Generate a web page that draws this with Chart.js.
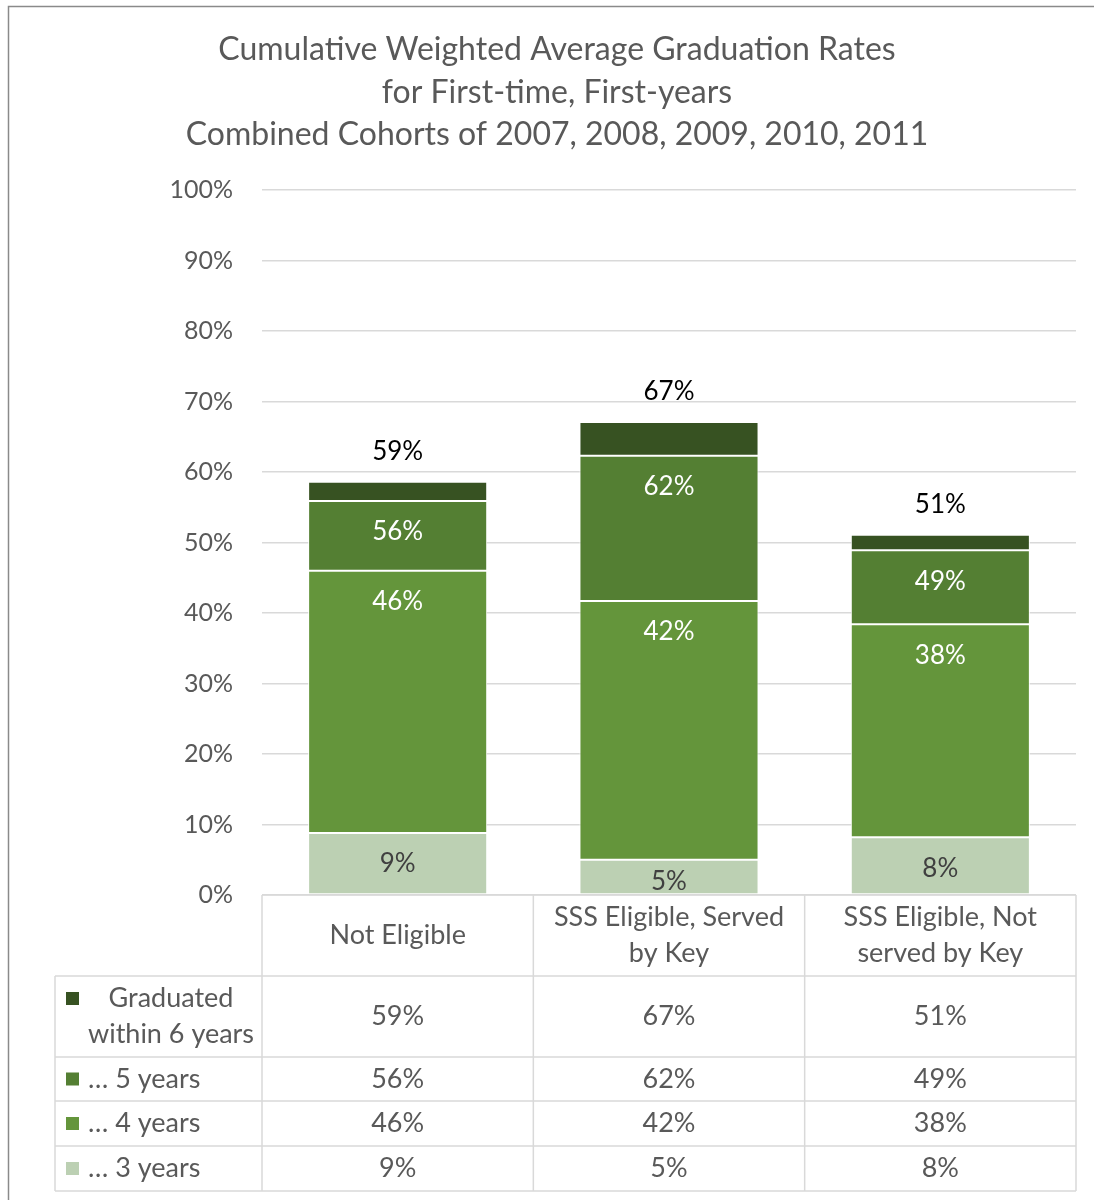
<!DOCTYPE html>
<html>
<head>
<meta charset="utf-8">
<script src="https://cdn.jsdelivr.net/npm/chart.js@4.4.1/dist/chart.umd.min.js"></script>
<style>
  html, body { margin: 0; padding: 0; background: #ffffff; }
  #wrap { width: 1094px; height: 1200px; }
</style>
</head>
<body>
<div id="wrap"><canvas id="c" width="1094" height="1200"></canvas></div>
<script>
// ---------- DATA ----------
const titleLines = [
  'Cumulative Weighted Average Graduation Rates',
  'for First-time, First-years',
  'Combined Cohorts of 2007, 2008, 2009, 2010, 2011'
];
const categories = [
  ['Not Eligible'],
  ['SSS Eligible, Served', 'by Key'],
  ['SSS Eligible, Not', 'served by Key']
];
// cumulative graduation rates (%)
const within3 = [8.8, 5.0, 8.2];
const within4 = [46.0, 41.7, 38.4];
const within5 = [55.9, 62.3, 48.9];
const within6 = [58.6, 67.1, 51.1];
const seriesNames = ['… 3 years', '… 4 years', '… 5 years', 'Graduated within 6 years'];
const seriesLegendLines = [['… 3 years'], ['… 4 years'], ['… 5 years'], ['Graduated', 'within 6 years']];
const yTicks = [0, 10, 20, 30, 40, 50, 60, 70, 80, 90, 100];

// ---------- STYLE ----------
const colors = ['#bcd0b3', '#64953b', '#547f33', '#375222'];
const FONT = 'Lato';
const textGray = '#595959';
const gridColor = '#d9d9d9';

const cumulative = [within3, within4, within5, within6];
const segments = cumulative.map((arr, s) =>
  arr.map((v, i) => s === 0 ? v : +(v - cumulative[s - 1][i]).toFixed(2)));

const pct = v => Math.round(v) + '%';

// table layout (pixel rows below the plot area)
const tableRowHeights = [81, 81, 44, 45, 45]; // header, 6yr, 5yr, 4yr, 3yr
const tableLeft = 55;

const framePlugin = {
  id: 'frame',
  beforeDraw(chart) {
    const ctx = chart.ctx;
    ctx.save();
    ctx.fillStyle = '#ffffff';
    ctx.fillRect(0, 0, chart.width, chart.height);
    ctx.strokeStyle = '#8a8a8a';
    ctx.lineWidth = 1.5;
    ctx.beginPath();
    ctx.moveTo(8.5, chart.height + 2);
    ctx.lineTo(8.5, 6.5);
    ctx.lineTo(chart.width + 2, 6.5);
    ctx.stroke();
    // title
    ctx.fillStyle = textGray;
    ctx.font = '32px ' + FONT;
    ctx.textAlign = 'center';
    ctx.textBaseline = 'middle';
    const cx = 557;
    titleLines.forEach((t, i) => ctx.fillText(t, cx, 50 + i * 42.5));
    ctx.restore();
  }
};

const labelPlugin = {
  id: 'labels',
  afterDatasetsDraw(chart) {
    const ctx = chart.ctx;
    ctx.save();
    ctx.font = '26px ' + FONT;
    ctx.textAlign = 'center';
    ctx.textBaseline = 'middle';
    chart.data.datasets.forEach((ds, d) => {
      const meta = chart.getDatasetMeta(d);
      meta.data.forEach((el, i) => {
        const txt = pct(cumulative[d][i]);
        if (d === cumulative.length - 1) {
          ctx.fillStyle = '#000000';
          ctx.fillText(txt, el.x, el.y - 30);
        } else {
          ctx.fillStyle = d === 0 ? '#404040' : '#ffffff';
          const y = Math.min(el.y + 31, el.base - 13);
          ctx.fillText(txt, el.x, y);
        }
      });
    });
    ctx.restore();
  }
};

const tablePlugin = {
  id: 'table',
  afterDraw(chart) {
    const ctx = chart.ctx;
    const area = chart.chartArea;
    const n = categories.length;
    const colW = (area.right - area.left) / n;
    const colEdges = [];
    for (let i = 0; i <= n; i++) colEdges.push(area.left + i * colW);
    const rowEdges = [area.bottom];
    tableRowHeights.forEach(h => rowEdges.push(rowEdges[rowEdges.length - 1] + h));
    const bottom = rowEdges[rowEdges.length - 1];

    ctx.save();
    ctx.strokeStyle = gridColor;
    ctx.lineWidth = 1.5;
    ctx.beginPath();
    ctx.moveTo(area.left, rowEdges[0]); ctx.lineTo(area.right, rowEdges[0]);
    for (let r = 1; r < rowEdges.length; r++) {
      ctx.moveTo(tableLeft, rowEdges[r]); ctx.lineTo(area.right, rowEdges[r]);
    }
    colEdges.forEach(x => { ctx.moveTo(x, rowEdges[0]); ctx.lineTo(x, bottom); });
    ctx.moveTo(tableLeft, rowEdges[1]); ctx.lineTo(tableLeft, bottom);
    ctx.stroke();

    ctx.font = '27px ' + FONT;
    ctx.fillStyle = textGray;
    ctx.textAlign = 'center';
    ctx.textBaseline = 'middle';
    const xs = chart.getDatasetMeta(0).data.map(el => el.x);
    // header
    categories.forEach((lines, i) => {
      const cy = (rowEdges[0] + rowEdges[1]) / 2;
      const lh = 36;
      lines.forEach((l, k) => ctx.fillText(l, xs[i], cy + (k - (lines.length - 1) / 2) * lh));
    });
    // rows: 6yr, 5yr, 4yr, 3yr
    for (let r = 0; r < cumulative.length; r++) {
      const s = cumulative.length - 1 - r;
      const top = rowEdges[r + 1], bot = rowEdges[r + 2];
      const cy = (top + bot) / 2;
      cumulative[s].forEach((v, i) => {
        ctx.fillStyle = textGray;
        ctx.textAlign = 'center';
        ctx.fillText(pct(v), xs[i], cy);
      });
      const lines = seriesLegendLines[s];
      if (lines.length > 1) {
        const lh = 36;
        const y0 = cy - (lines.length - 1) / 2 * lh;
        ctx.fillStyle = colors[s];
        ctx.fillRect(66, y0 - 6.5, 13, 13);
        ctx.fillStyle = textGray;
        ctx.textAlign = 'center';
        lines.forEach((l, k) => ctx.fillText(l, 171, y0 + k * lh));
      } else {
        ctx.fillStyle = colors[s];
        ctx.fillRect(66, cy - 6.5, 13, 13);
        ctx.fillStyle = textGray;
        ctx.textAlign = 'left';
        ctx.fillText(lines[0], 88, cy);
      }
    }
    ctx.restore();
  }
};

new Chart(document.getElementById('c'), {
  type: 'bar',
  data: {
    labels: categories,
    datasets: segments.map((seg, s) => ({
      label: seriesNames[s],
      data: seg,
      backgroundColor: colors[s],
      borderColor: '#ffffff',
      borderWidth: 1,
      borderSkipped: false,
      barPercentage: 0.66,
      categoryPercentage: 1.0
    }))
  },
  options: {
    responsive: false,
    animation: false,
    devicePixelRatio: 1,
    layout: { padding: { top: 190, bottom: 305, left: 0, right: 18 } },
    plugins: {
      legend: { display: false },
      title: { display: false },
      tooltip: { enabled: false }
    },
    scales: {
      x: {
        stacked: true,
        display: false
      },
      y: {
        stacked: true,
        min: 0,
        max: 100,
        afterBuildTicks(scale) { scale.ticks = yTicks.map(v => ({ value: v })); },
        afterFit(scale) { scale.width = 262; },
        ticks: {
          callback: v => v + '%',
          color: textGray,
          font: { family: FONT, size: 25 },
          padding: 29
        },
        grid: { color: gridColor, lineWidth: 1.5, drawTicks: false },
        border: { display: false }
      }
    }
  },
  plugins: [framePlugin, labelPlugin, tablePlugin]
});
</script>
</body>
</html>
